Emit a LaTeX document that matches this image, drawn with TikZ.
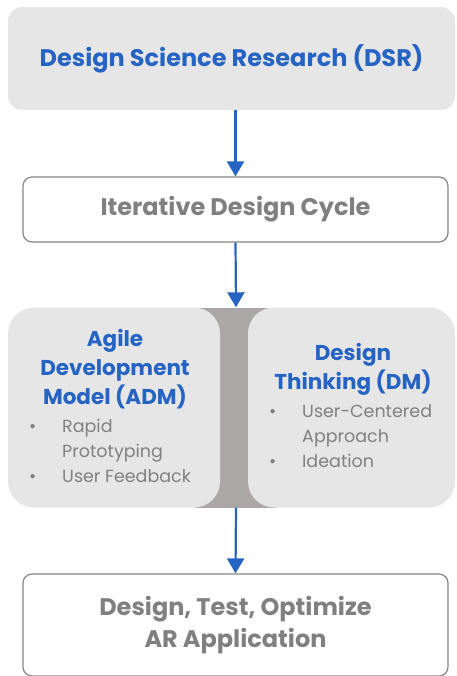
\documentclass[tikz,border=0pt]{standalone}
\usepackage{fontspec}
\setmainfont{Poppins}
\usetikzlibrary{arrows.meta}
\definecolor{dsrblue}{RGB}{38,100,196}
\definecolor{textgray}{RGB}{128,128,128}
\definecolor{boxgray}{RGB}{230,230,230}
\definecolor{bandgray}{RGB}{171,167,167}
\definecolor{linegray}{RGB}{135,135,135}
\tikzstyle{flow}=[draw=dsrblue,line width=2.2pt,-{Triangle[width=17pt,length=15pt]}]
\tikzstyle{stagebox}=[draw=linegray,line width=1.2pt,fill=white,rounded corners=9pt,minimum width=425pt,text=textgray,align=center,font=\bfseries\fontsize{24}{32}\selectfont]
\tikzstyle{methodbox}=[fill=boxgray,rounded corners=26pt,minimum height=200pt,inner sep=0pt]
\tikzstyle{methodtitle}=[text=dsrblue,align=center,font=\bfseries\fontsize{21.5}{29}\selectfont]
\tikzstyle{points}=[text=textgray,inner sep=0pt,font=\fontsize{17.5}{25}\selectfont]
\newcommand{\pointlist}[1]{\begin{tabular}{@{}p{33pt}@{}l@{}}#1\end{tabular}}

\begin{document}
\begin{tikzpicture}[x=1pt,y=-1pt]
	\useasboundingbox (0,0) rectangle (456,676);
	% research frame
	\node[fill=boxgray,rounded corners=14pt,minimum width=447pt,minimum height=103pt,text=dsrblue,font=\bfseries\fontsize{24}{28}\selectfont] (dsr) at (231.5,58.5) {Design Science Research (DSR)};
	\node[stagebox,minimum height=65pt] (cycle) at (235.5,209.5) {Iterative Design Cycle};
	% the two methods, joined by a band
	\node[fill=bandgray,minimum width=82pt,minimum height=200pt,inner sep=0pt] (link) at (236,407.5) {};
	\node[methodbox,minimum width=212pt] (adm) at (114,407.5) {};
	\node[methodbox,minimum width=207pt] (dm) at (351.5,407.5) {};
	\node[methodtitle] (admtitle) at (115,369) {Agile\\Development\\Model (ADM)};
	\node[points,anchor=west] (admpoints) at (29,452) {\pointlist{\textbullet & Rapid\\ & Prototyping\\ \textbullet & User Feedback}};
	\node[methodtitle] (dmtitle) at (353,369) {Design\\Thinking (DM)};
	\node[points,anchor=west] (dmpoints) at (269,437) {\pointlist{\textbullet & User-Centered\\ & Approach\\ \textbullet & Ideation}};
	% outcome
	\node[stagebox,minimum height=102pt] (result) at (235.5,625) {Design, Test, Optimize\\AR Application};
	\draw[flow] (dsr.south -| cycle.north) -- (cycle.north);
	\draw[flow] (cycle.south) -- (link.north);
	\draw[flow] (link.south) -- (result.north);
\end{tikzpicture}
\end{document}
